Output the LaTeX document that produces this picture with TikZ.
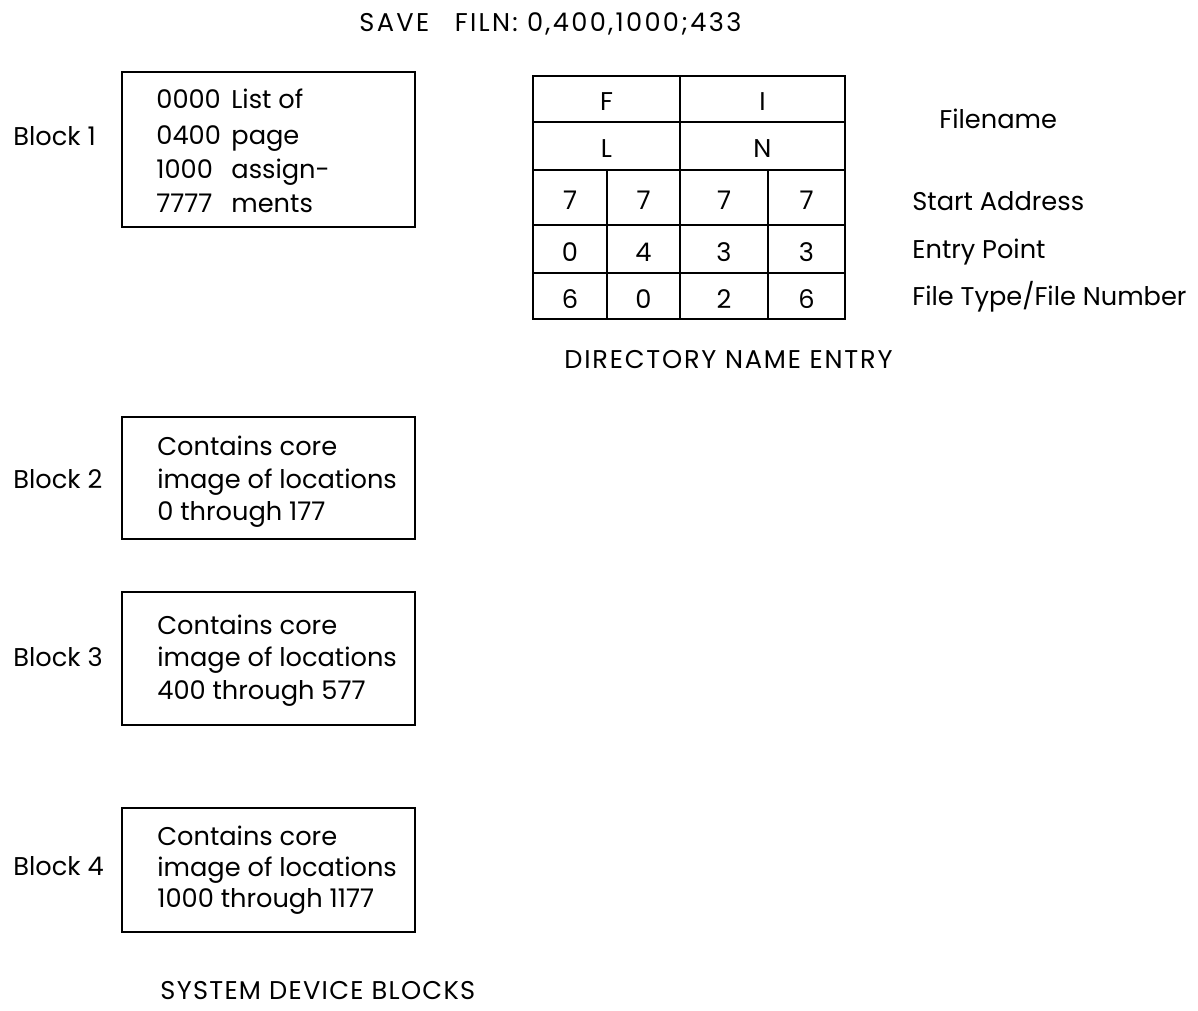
\documentclass[tikz,border=0pt]{standalone}
\usepackage{fontspec}
\setmainfont{Poppins}

\begin{document}
\begin{tikzpicture}[font=\fontsize{14.6pt}{18pt}\selectfont,line width=1.6pt,
  txt/.style={anchor=base west,inner sep=0pt},
  cell/.style={inner sep=0pt},
  blockbox/.style={draw,minimum width=5.86cm,inner sep=0pt}]
\useasboundingbox (0,0) rectangle (23.96,20.2);
% command line
\node[txt] (cmd) at (7.16,19.56) {\addfontfeatures{LetterSpace=9}SAVE\quad FILN: 0,400,1000;433};
% block 1 (page assignments)
\node[blockbox,minimum height=3.10cm] (blk1) at (5.37,17.21) {};
\node[txt] (lab1) at (0.24,17.28) {Block 1};
\node[txt] (a1) at (3.10,18.02) {0000};
\node[txt] (a2) at (3.10,17.30) {0400};
\node[txt] (a3) at (3.10,16.62) {1000};
\node[txt] (a4) at (3.10,15.94) {7777};
\node[txt] (w1) at (4.60,18.02) {List of};
\node[txt] (w2) at (4.60,17.30) {page};
\node[txt] (w3) at (4.60,16.62) {assign-};
\node[txt] (w4) at (4.60,15.94) {ments};
% blocks 2-4 (core images)
\node[blockbox,minimum height=2.44cm] (blk2) at (5.37,10.64) {};
\node[txt] (lab2) at (0.24,10.42) {Block 2};
\node[txt] (b2a) at (3.12,11.08) {Contains core};
\node[txt] (b2b) at (3.12,10.42) {image of locations};
\node[txt] (b2c) at (3.12,9.78) {0 through 177};
\node[blockbox,minimum height=2.66cm] (blk3) at (5.37,7.03) {};
\node[txt] (lab3) at (0.24,6.86) {Block 3};
\node[txt] (b3a) at (3.12,7.50) {Contains core};
\node[txt] (b3b) at (3.12,6.86) {image of locations};
\node[txt] (b3c) at (3.12,6.22) {400 through 577};
\node[blockbox,minimum height=2.48cm] (blk4) at (5.37,2.80) {};
\node[txt] (lab4) at (0.24,2.70) {Block 4};
\node[txt] (b4a) at (3.12,3.30) {Contains core};
\node[txt] (b4b) at (3.12,2.68) {image of locations};
\node[txt] (b4c) at (3.12,2.06) {1000 through 1177};
\node[txt] (sdb) at (3.18,0.22) {\addfontfeatures{LetterSpace=5}SYSTEM DEVICE BLOCKS};
% directory name entry table
\draw (10.66,13.82) rectangle (16.90,18.68);
\draw (10.66,17.76) -- (16.90,17.76);
\draw (10.66,16.80) -- (16.90,16.80);
\draw (10.66,15.70) -- (16.90,15.70);
\draw (10.66,14.74) -- (16.90,14.74);
\draw (13.60,13.82) -- (13.60,18.68);
\draw (12.14,13.82) -- (12.14,16.80);
\draw (15.36,13.82) -- (15.36,16.80);
\node[cell] (cF) at (12.13,18.16) {F};
\node[cell] (cI) at (15.25,18.16) {I};
\node[cell] (cL) at (12.13,17.22) {L};
\node[cell] (cN) at (15.25,17.22) {N};
\foreach \d [count=\i] in {7,7,7,7}
  \node[cell] (sa\i) at ({\i==1 ? 11.40 : (\i==2 ? 12.87 : (\i==3 ? 14.48 : 16.13))},16.19) {\d};
\foreach \d [count=\i] in {0,4,3,3}
  \node[cell] (ep\i) at ({\i==1 ? 11.40 : (\i==2 ? 12.87 : (\i==3 ? 14.48 : 16.13))},15.16) {\d};
\foreach \d [count=\i] in {6,0,2,6}
  \node[cell] (ft\i) at ({\i==1 ? 11.40 : (\i==2 ? 12.87 : (\i==3 ? 14.48 : 16.13))},14.22) {\d};
% field names
\node[txt] (fname) at (18.76,17.62) {Filename};
\node[txt] (fstart) at (18.22,15.98) {Start Address};
\node[txt] (fentry) at (18.22,15.02) {Entry Point};
\node[txt] (ftype) at (18.22,14.08) {File Type/File Number};
\node[txt] (dne) at (11.26,12.82) {\addfontfeatures{LetterSpace=7}DIRECTORY NAME ENTRY};
\end{tikzpicture}
\end{document}
